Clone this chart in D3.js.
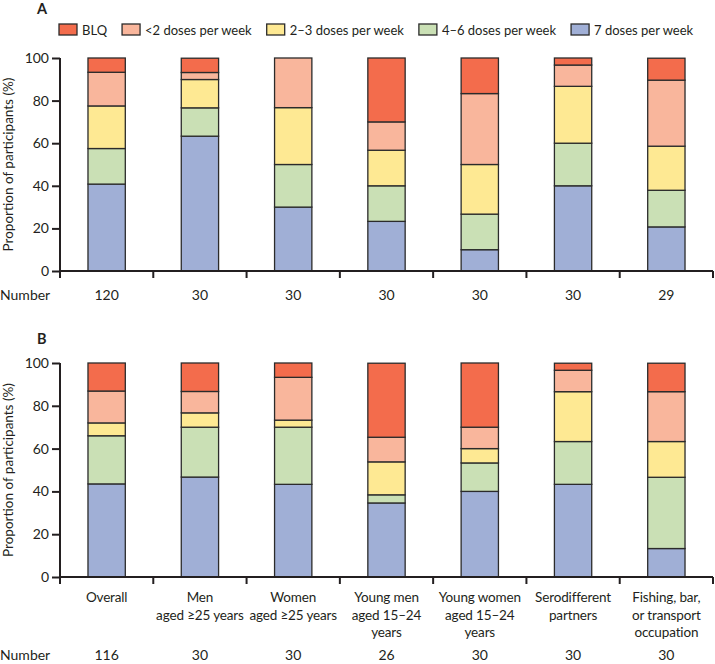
<!DOCTYPE html>
<html>
<head>
<meta charset="utf-8">
<script src="https://cdn.jsdelivr.net/npm/d3@7"></script>
<style>
  html, body { margin: 0; padding: 0; background: #fff; }
  svg { display: block; }
  text { font-family: Lato, "Noto Sans", sans-serif; fill: #231f20; }
</style>
</head>
<body>
<svg id="chart" width="715" height="664"></svg>
<script>
// ---------- data ----------
const categories = ["Overall", "Men aged ≥25 years", "Women aged ≥25 years", "Young men aged 15–24 years", "Young women aged 15–24 years", "Serodifferent partners", "Fishing, bar, or transport occupation"];
const categoryLines = [
  ["Overall"],
  ["Men", "aged ≥25 years"],
  ["Women", "aged ≥25 years"],
  ["Young men", "aged 15–24", "years"],
  ["Young women", "aged 15–24", "years"],
  ["Serodifferent", "partners"],
  ["Fishing, bar,", "or transport", "occupation"]
];
const seriesKeys = ["7 doses per week", "4–6 doses per week", "2–3 doses per week", "<2 doses per week", "BLQ"];
const legendOrder = ["BLQ", "<2 doses per week", "2–3 doses per week", "4–6 doses per week", "7 doses per week"];
const seriesColors = ["#a0afd6", "#cae0b5", "#fee993", "#f9b69c", "#f36c4c"];
const yTicks = [0, 20, 40, 60, 80, 100];

// Panel A (%)
const a7   = [40.8, 63.3, 30.0, 23.3, 10.0, 40.0, 20.7];
const a46  = [16.7, 13.3, 20.0, 16.7, 16.7, 20.0, 17.2];
const a23  = [20.0, 13.3, 26.7, 16.7, 23.3, 26.7, 20.7];
const a2   = [15.8, 3.3, 23.3, 13.3, 33.3, 10.0, 31.0];
const aBLQ = [6.7, 6.7, 0.0, 30.0, 16.7, 3.3, 10.3];
const numbersA = [120, 30, 30, 30, 30, 30, 29];

// Panel B (%)
const b7   = [43.5, 46.7, 43.3, 34.6, 40.0, 43.3, 13.3];
const b46  = [22.5, 23.3, 26.7, 3.8, 13.3, 20.0, 33.3];
const b23  = [6.0, 6.7, 3.3, 15.4, 6.7, 23.3, 16.7];
const b2   = [14.9, 10.0, 20.0, 11.5, 10.0, 10.0, 23.3];
const bBLQ = [13.1, 13.3, 6.7, 34.6, 30.0, 3.3, 13.3];
const numbersB = [116, 30, 30, 26, 30, 30, 30];

// ---------- drawing ----------
const svg = d3.select("#chart");
const color = d3.scaleOrdinal().domain(seriesKeys).range(seriesColors);
const axisColor = "#231f20";

const x = d3.scaleBand().domain(categories).range([60, 713]).paddingInner(0.6).paddingOuter(0.3);

function buildRows(v7, v46, v23, v2, vB) {
  return categories.map((c, i) => ({
    cat: c,
    [seriesKeys[0]]: v7[i], [seriesKeys[1]]: v46[i], [seriesKeys[2]]: v23[i],
    [seriesKeys[3]]: v2[i], [seriesKeys[4]]: vB[i]
  }));
}

function panel(label, rows, numbers, top, bottom, labelY, showCats, numberY) {
  const y = d3.scaleLinear().domain([0, 100]).range([bottom, top]);
  const g = svg.append("g");

  // panel letter
  g.append("text").attr("x", 37).attr("y", labelY)
    .attr("font-size", 14.5).attr("font-weight", "bold").text(label);

  // bars
  const stacked = d3.stack().keys(seriesKeys)(rows);
  g.selectAll("g.series").data(stacked).join("g")
    .attr("fill", d => color(d.key))
    .selectAll("rect").data(d => d.filter(s => s[1] - s[0] > 0)).join("rect")
    .attr("x", d => x(d.data.cat))
    .attr("width", x.bandwidth())
    .attr("y", d => y(d[1]))
    .attr("height", d => y(d[0]) - y(d[1]))
    .attr("stroke", "#2b2b2b").attr("stroke-width", 1.3);

  // y axis
  const yAxis = g.append("g").attr("transform", "translate(60,0)")
    .call(d3.axisLeft(y).tickValues(yTicks).tickSize(8).tickPadding(3).tickSizeOuter(0));
  yAxis.select(".domain").attr("stroke", axisColor).attr("stroke-width", 2)
    .attr("d", `M0,${bottom + 7}V${top}`);
  yAxis.selectAll(".tick line").attr("stroke", axisColor).attr("stroke-width", 2);
  yAxis.selectAll(".tick text").attr("font-size", 14).attr("fill", axisColor)
    .style("font-family", "Lato, 'Noto Sans', sans-serif");

  // x axis
  const xAxis = g.append("g").attr("transform", `translate(0,${bottom})`)
    .call(d3.axisBottom(x).tickSize(0).tickFormat(""));
  xAxis.select(".domain").attr("stroke", axisColor).attr("stroke-width", 2)
    .attr("d", `M${x.range()[0]},0H${x.range()[1]}`);
  const bounds = d3.range(categories.length + 1).map(i => x.range()[0] + i * x.step());
  xAxis.selectAll("line.bound").data(bounds.slice(1)).join("line")
    .attr("class", "bound")
    .attr("x1", d => d).attr("x2", d => d).attr("y1", 0).attr("y2", 7)
    .attr("stroke", axisColor).attr("stroke-width", 2);

  // y title
  g.append("text")
    .attr("transform", `translate(13,${(top + bottom) / 2}) rotate(-90)`)
    .attr("text-anchor", "middle").attr("font-size", 13.5)
    .text("Proportion of participants (%)");

  // category labels
  if (showCats) {
    categoryLines.forEach((lines, i) => {
      const t = g.append("text").attr("text-anchor", "middle").attr("font-size", 13.5)
        .attr("letter-spacing", -0.15);
      lines.forEach((ln, j) => {
        t.append("tspan").attr("x", x(categories[i]) + x.bandwidth() / 2)
          .attr("y", bottom + 25 + j * 17.5).text(ln);
      });
    });
  }

  // Number row
  g.append("text").attr("x", 0).attr("y", numberY).attr("font-size", 14).text("Number");
  g.selectAll("text.num").data(numbers).join("text").attr("class", "num")
    .attr("x", (d, i) => x(categories[i]) + x.bandwidth() / 2)
    .attr("y", numberY).attr("text-anchor", "middle").attr("font-size", 14)
    .text(d => d);
}

panel("A", buildRows(a7, a46, a23, a2, aBLQ), numbersA, 58, 271, 14, false, 300);
panel("B", buildRows(b7, b46, b23, b2, bBLQ), numbersB, 363, 577, 344, true, 660);

// legend
const legend = svg.append("g");
let lx = 59;
legendOrder.forEach(k => {
  legend.append("rect").attr("x", lx).attr("y", 24).attr("width", 18).attr("height", 11)
    .attr("fill", color(k)).attr("stroke", "#2b2b2b").attr("stroke-width", 1.3);
  const t = legend.append("text").attr("x", lx + 23).attr("y", 35).attr("font-size", 13).text(k);
  lx = lx + 23 + t.node().getComputedTextLength() + 15;
});
</script>
</body>
</html>
